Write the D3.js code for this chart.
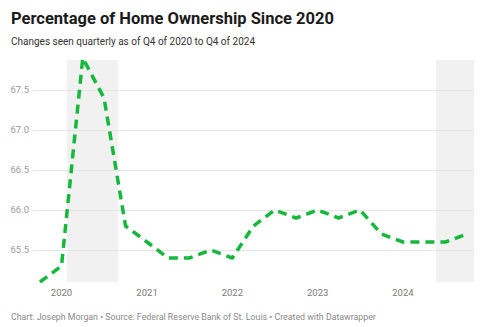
<!DOCTYPE html>
<html>
<head>
<meta charset="utf-8">
<script src="https://cdn.jsdelivr.net/npm/d3@7"></script>
<style>
  body { margin: 0; background: #fff; font-family: Roboto, "Noto Sans", sans-serif; }
  .grid line { stroke: #e5e5e5; stroke-width: 1; }
  .ylab { fill: #9a9a9a; font-size: 9.5px; }
  .xlab { fill: #7a7a7a; font-size: 9.5px; }
</style>
</head>
<body>
<svg id="display" width="491" height="327"></svg>
<script>
// quarterly home ownership rate (%)
var quarters = ["2019-10-01", "2020-01-01", "2020-04-01", "2020-07-01", "2020-10-01",
  "2021-01-01", "2021-04-01", "2021-07-01", "2021-10-01",
  "2022-01-01", "2022-04-01", "2022-07-01", "2022-10-01",
  "2023-01-01", "2023-04-01", "2023-07-01", "2023-10-01",
  "2024-01-01", "2024-04-01", "2024-07-01", "2024-10-01"];
var rates = [65.1, 65.3, 67.9, 67.4, 65.8,
  65.6, 65.4, 65.4, 65.5,
  65.4, 65.8, 66.0, 65.9,
  66.0, 65.9, 66.0, 65.7,
  65.6, 65.6, 65.6, 65.7];
var yTicks = [65.5, 66.0, 66.5, 67.0, 67.5];
var xTicks = ["2020-01-01", "2021-01-01", "2022-01-01", "2023-01-01", "2024-01-01"];
var shadedRanges = [["2020-01-24", "2020-08-30"], ["2024-05-21", "2024-10-31"]];

var parse = d3.timeParse("%Y-%m-%d");
var data = quarters.map(function(q, i) { return {date: parse(q), value: rates[i]}; });

var svg = d3.select("#display");

var x = d3.scaleTime()
    .domain([parse("2019-10-01"), parse("2024-10-31")])
    .range([40, 474]);

var y = d3.scaleLinear()
    .domain([65.1, 67.875])
    .range([282, 60]);

svg.append("text")
    .attr("x", 11)
    .attr("y", 24)
    .attr("font-size", "16.5px")
    .attr("font-weight", "bold")
    .attr("fill", "#1a1a1a")
    .text("Percentage of Home Ownership Since 2020");

svg.append("text")
    .attr("x", 11)
    .attr("y", 45)
    .attr("font-size", "10px")
    .attr("fill", "#333")
    .text("Changes seen quarterly as of Q4 of 2020 to Q4 of 2024");

// shaded periods
svg.append("g")
  .selectAll("rect")
  .data(shadedRanges)
  .enter().append("rect")
    .attr("x", function(d) { return x(parse(d[0])); })
    .attr("width", function(d) { return x(parse(d[1])) - x(parse(d[0])); })
    .attr("y", y.range()[1])
    .attr("height", y.range()[0] - y.range()[1])
    .attr("fill", "#f1f1f1");

var grid = svg.append("g").attr("class", "grid");
grid.selectAll("line")
  .data(yTicks)
  .enter().append("line")
    .attr("x1", 33)
    .attr("x2", 474)
    .attr("y1", function(d) { return Math.round(y(d)) + 0.5; })
    .attr("y2", function(d) { return Math.round(y(d)) + 0.5; });

svg.append("g")
  .selectAll("text")
  .data(yTicks)
  .enter().append("text")
    .attr("class", "ylab")
    .attr("x", 29)
    .attr("y", function(d) { return y(d); })
    .attr("dy", "0.35em")
    .attr("text-anchor", "end")
    .text(function(d) { return d3.format(".1f")(d); });

svg.append("g")
  .selectAll("text")
  .data(xTicks)
  .enter().append("text")
    .attr("class", "xlab")
    .attr("x", function(d) { return x(parse(d)); })
    .attr("y", 296)
    .attr("text-anchor", "middle")
    .text(function(d) { return d.slice(0, 4); });

var line = d3.line()
    .x(function(d) { return x(d.date); })
    .y(function(d) { return y(d.value); });

svg.append("path")
    .datum(data)
    .attr("d", line)
    .attr("fill", "none")
    .attr("stroke", "#14b83a")
    .attr("stroke-width", 3.5)
    .attr("stroke-dasharray", "9,6")
    .attr("stroke-linejoin", "round");

svg.append("text")
    .attr("x", 11)
    .attr("y", 320)
    .attr("font-size", "8.8px")
    .attr("fill", "#8a8a8a")
    .text("Chart: Joseph Morgan \u2022 Source: Federal Reserve Bank of St. Louis \u2022 Created with Datawrapper");
</script>
</body>
</html>
